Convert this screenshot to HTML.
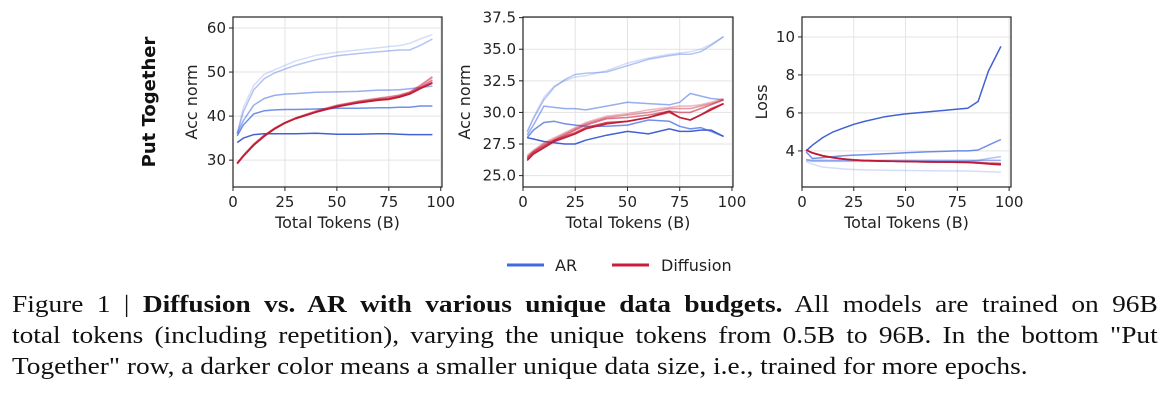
<!DOCTYPE html>
<html><head><meta charset="utf-8"><style>
body{margin:0;background:#fff;width:1168px;height:407px;overflow:hidden;position:relative;font-family:"DejaVu Sans","Liberation Sans",sans-serif}
.cap{position:absolute;left:12px;top:290px;font-family:"Liberation Serif",serif;font-size:24px;line-height:31px;color:#111;width:1005px;transform:scaleX(1.14);transform-origin:0 0}
.cap div{text-align:justify;text-align-last:justify;white-space:nowrap}
.cap div.last{text-align-last:left}
</style></head><body>
<svg id="chart" width="1168" height="290" style="position:absolute;left:0;top:0" font-family="DejaVu Sans, Liberation Sans, sans-serif"></svg>
<div class="cap"><div>Figure 1 | <b>Diffusion vs. AR with various unique data budgets.</b> All models are trained on 96B</div><div>total tokens (including repetition), varying the unique tokens from 0.5B to 96B. In the bottom "Put</div><div class="last">Together" row, a darker color means a smaller unique data size, i.e., trained for more epochs.</div></div>
<script>
const xs=[2,5,10,15,20,25,30,40,50,60,70,75,80,85,90,96];
const p1AR=[
[36,42,47,49.5,50.5,51.5,52.5,53.8,54.5,55,55.5,55.8,56,56.5,57.5,58.5],
[36,41,46,48.5,49.8,50.7,51.5,52.8,53.7,54.2,54.6,54.8,55,55,56,57.5],
[36,39,42.5,44,44.7,45,45.1,45.4,45.5,45.6,45.9,45.9,46,46.2,46.5,46.8],
[35.5,38,40.5,41.2,41.4,41.5,41.5,41.6,41.8,41.8,41.9,41.9,42,42,42.3,42.3],
[34,35,35.8,36,36,36,36,36.1,35.9,35.9,36,36,35.9,35.8,35.8,35.8]];
const p1Diff=[
[29.4,31.1,33.7,35.7,37.3,38.6,39.6,41.2,42.5,43.4,44.1,44.4,44.8,45.5,47,49],
[29.3,31,33.6,35.6,37.2,38.5,39.5,41.1,42.4,43.3,44,44.3,44.7,45.4,46.8,48.8],
[29.3,31,33.5,35.5,37.2,38.5,39.5,41,42.3,43.2,43.8,44,44.5,45.2,46.5,48.2],
[29.3,31,33.5,35.5,37.1,38.4,39.4,40.9,42.2,43,43.7,43.9,44.4,45.1,46.3,47.7],
[29.2,30.9,33.4,35.4,37.1,38.4,39.4,40.9,42.1,43,43.6,43.8,44.3,45,46.2,47.5]];
const p2AR=[
[28.4,29.6,31.2,32.1,32.5,32.8,32.9,33.3,33.9,34.3,34.6,34.7,34.8,35,35.4,36],
[28.5,29.5,31,32,32.6,33,33.1,33.2,33.7,34.2,34.5,34.6,34.6,34.8,35.3,36],
[28.2,29,30.5,30.4,30.3,30.3,30.2,30.5,30.8,30.7,30.6,30.8,31.5,31.3,31.1,31],
[28,28.6,29.2,29.3,29.1,29,28.9,28.9,29,29.4,29.3,28.9,28.7,28.8,28.5,28.1],
[28,27.9,27.7,27.6,27.5,27.5,27.8,28.2,28.5,28.3,28.7,28.5,28.5,28.6,28.6,28.1]];
const p2Diff=[
[26.6,27,27.6,28,28.4,28.8,29.2,29.7,29.9,30.2,30.4,30.5,30.5,30.6,30.8,31.1],
[26.5,26.9,27.5,27.9,28.3,28.7,29.1,29.6,29.8,30,30.3,30.3,30.3,30.5,30.7,31],
[26.4,26.9,27.4,27.8,28.2,28.6,29,29.5,29.6,29.8,30.1,30,30,30.3,30.6,31],
[26.3,26.8,27.3,27.8,28.1,28.4,28.8,29.2,29.3,29.6,30,29.6,29.4,29.8,30.3,30.7],
[26.2,26.7,27.2,27.7,28,28.3,28.7,29.1,29.3,29.6,30.1,29.6,29.4,29.8,30.2,30.7]];
const p3AR=[
[3.45,3.3,3.15,3.1,3.05,3.02,3,2.98,2.97,2.96,2.95,2.95,2.94,2.92,2.9,2.88],
[3.5,3.45,3.45,3.45,3.45,3.45,3.45,3.45,3.45,3.45,3.45,3.45,3.45,3.5,3.6,3.7],
[3.55,3.5,3.5,3.5,3.5,3.5,3.5,3.5,3.5,3.5,3.5,3.5,3.5,3.5,3.5,3.5],
[3.95,3.6,3.65,3.7,3.75,3.78,3.8,3.85,3.9,3.95,3.98,4,4,4.05,4.3,4.6],
[4,4.3,4.7,5,5.2,5.4,5.55,5.8,5.95,6.05,6.15,6.2,6.25,6.6,8.2,9.5]];
const p3Diff=[
[4.05,3.9,3.75,3.65,3.58,3.53,3.5,3.47,3.45,3.43,3.42,3.42,3.42,3.4,3.37,3.35],
[4.05,3.9,3.75,3.65,3.58,3.53,3.5,3.47,3.45,3.43,3.42,3.42,3.41,3.39,3.35,3.32],
[4.05,3.9,3.74,3.64,3.57,3.52,3.49,3.46,3.44,3.42,3.41,3.41,3.4,3.37,3.33,3.3],
[4.05,3.89,3.74,3.64,3.57,3.52,3.49,3.46,3.44,3.42,3.41,3.4,3.39,3.36,3.31,3.27]];
const xTicks=[0,25,50,75,100];
const p1Ticks=[30,40,50,60];
const p2Ticks=["25.0","27.5","30.0","32.5","35.0","37.5"];
const p3Ticks=[4,6,8,10];
const arCols=["rgba(65,105,225,0.22)","rgba(65,105,225,0.4)","rgba(65,105,225,0.55)","rgba(65,105,225,0.75)","rgba(55,90,210,0.95)"];
const dfCols=["rgba(200,30,58,0.3)","rgba(200,30,58,0.45)","rgba(200,30,58,0.6)","rgba(200,30,58,0.8)","rgba(190,25,50,0.95)"];
const svg=document.getElementById('chart');
const NS="http://www.w3.org/2000/svg";
function mk(t,a,parent){const e=document.createElementNS(NS,t);for(const k in a)e.setAttribute(k,a[k]);(parent||svg).appendChild(e);return e;}
function panel(id,L,R,T,B,x0,x1,yMin,yMax,yTicks,ylab,ar,df){
  const g=mk('g',{});
  
  
  const sx=v=>L+(v-x0)/(x1-x0)*(R-L);
  const sy=v=>B-(v-yMin)/(yMax-yMin)*(B-T);
  xTicks.forEach(t=>{const x=sx(t);
    const gl=mk('line',{x1:x,x2:x,y1:T,y2:B,stroke:'#e3e3e3','stroke-width':1},g);
    
    mk('line',{x1:x,x2:x,y1:B,y2:B+4,stroke:'#222'},g);
    const tx=mk('text',{x:x,y:B+20,'text-anchor':'middle','font-size':15,fill:'#222'},g);tx.textContent=t;
    });
  yTicks.forEach(t=>{const y=sy(+t);
    const gl=mk('line',{x1:L,x2:R,y1:y,y2:y,stroke:'#e3e3e3','stroke-width':1},g);
    
    mk('line',{x1:L-4,x2:L,y1:y,y2:y,stroke:'#222'},g);
    const tx=mk('text',{x:L-7,y:y+5,'text-anchor':'end','font-size':15,fill:'#222'},g);tx.textContent=t;
    });
  const path=(arr,col,w,name)=>{const d=arr.map((v,i)=>(i?'L':'M')+sx(xs[i]).toFixed(1)+','+sy(v).toFixed(1)).join('');
    const p=mk('path',{d:d,fill:'none',stroke:col,'stroke-width':w,'stroke-linejoin':'round'},g);
    };
  ar.forEach((a,i)=>path(a,arCols[i],1.5,'ar-line'));
  df.forEach((a,i)=>path(a,dfCols[i+(5-df.length)],1.6,'diffusion-line'));
  const fr=mk('rect',{x:L,y:T,width:R-L,height:B-T,fill:'none',stroke:'#222','stroke-width':1.2},g);
  
  const xl=mk('text',{x:(L+R)/2,y:B+41,'text-anchor':'middle','font-size':16,fill:'#222'},g);xl.textContent='Total Tokens (B)';
  
  const yx=ylab[1],yy=(T+B)/2;
  const yl=mk('text',{x:yx,y:yy,'text-anchor':'middle','font-size':16,fill:'#222',transform:`rotate(-90 ${yx} ${yy})`},g);yl.textContent=ylab[0];
  
}
panel('acc-panel-1',233,442,17,187,0,100.6,23.9,62.5,p1Ticks,['Acc norm',197],p1AR,p1Diff);
panel('acc-panel-2',523,733,17,187,0,100.5,24.1,37.55,p2Ticks,['Acc norm',470],p2AR,p2Diff);
panel('loss-panel',802,1011,17,187,0,100.9,2.1,11.05,p3Ticks,['Loss',767],p3AR,p3Diff);
const rt=mk('text',{x:155,y:102,'text-anchor':'middle','font-size':18,'font-weight':'bold',fill:'#111',transform:'rotate(-90 155 102)'});
rt.textContent='Put Together';


const l1=mk('line',{x1:507,x2:544,y1:265,y2:265,stroke:'#4169e1','stroke-width':3});


const t1=mk('text',{x:555,y:271,'font-size':16,fill:'#222'});t1.textContent='AR';


const l2=mk('line',{x1:612,x2:649,y1:265,y2:265,stroke:'#c81e3a','stroke-width':3});


const t2=mk('text',{x:661,y:271,'font-size':16,fill:'#222'});t2.textContent='Diffusion';


</script>
</body></html>
